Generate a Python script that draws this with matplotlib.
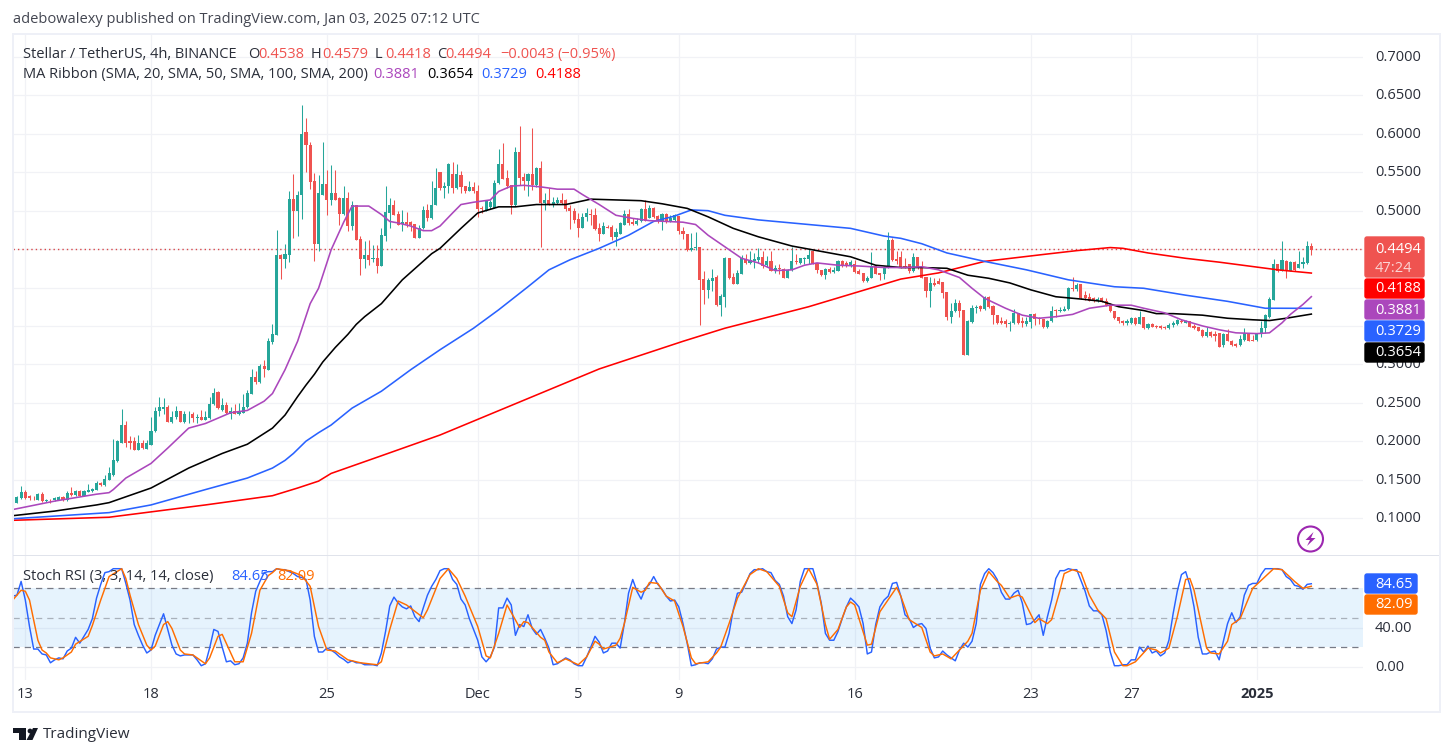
import matplotlib
matplotlib.use("Agg")
import matplotlib.pyplot as plt
from matplotlib.patches import Rectangle, Circle, Polygon, FancyBboxPatch

opens = [
 .117,.120,.126,.134,.128,.126,.124,.131,.122,.124,
 .124,.124,.127,.123,.132,.130,.135,.129,.134,.135,
 .137,.145,.143,.150,.156,.174,.198,.221,.200,.200,
 .189,.197,.190,.195,.213,.239,.242,.245,.225,.231,
 .239,.225,.235,.236,.230,.232,.228,.230,.248,.264,
 .241,.247,.236,.239,.235,.237,.244,.262,.284,.277,
 .298,.293,.329,.338,.442,.437,.442,.515,.499,.520,
 .602,.586,.538,.456,.521,.535,.514,.523,.517,.496,
 .517,.480,.507,.463,.437,.442,.437,.438,.428,.467,
 .497,.508,.496,.483,.485,.485,.483,.465,.477,.501,
 .490,.507,.550,.529,.532,.548,.529,.546,.532,.526,
 .531,.526,.503,.499,.505,.504,.536,.561,.542,.534,
 .508,.577,.544,.539,.548,.533,.555,.510,.514,.507,
 .510,.514,.514,.504,.499,.489,.478,.492,.496,.494,
 .478,.470,.479,.479,.466,.470,.482,.496,.485,.483,
 .486,.502,.491,.504,.493,.486,.496,.486,.488,.493,
 .473,.470,.449,.452,.453,.411,.397,.409,.414,.377,
 .388,.438,.414,.405,.418,.437,.432,.434,.436,.440,
 .429,.435,.421,.425,.424,.413,.423,.435,.432,.437,
 .437,.447,.432,.423,.416,.424,.420,.422,.434,.432,
 .429,.431,.422,.419,.408,.413,.428,.419,.417,.426,
 .462,.437,.440,.428,.430,.421,.440,.426,.414,.395,
 .406,.408,.407,.394,.361,.369,.380,.371,.312,.355,
 .373,.376,.372,.387,.376,.364,.357,.357,.353,.354,
 .367,.356,.352,.355,.366,.360,.359,.348,.356,.371,
 .369,.370,.372,.400,.398,.404,.390,.387,.386,.383,
 .386,.383,.377,.370,.361,.356,.354,.354,.360,.353,
 .361,.347,.353,.350,.350,.349,.347,.351,.353,.357,
 .354,.357,.350,.348,.345,.337,.342,.340,.341,.325,
 .340,.331,.327,.325,.332,.341,.332,.332,.340,.347,
 .361,.384,.430,.422,.434,.422,.433,.425,.430,.432,
 .4538]
highs = [
 .125,.129,.142,.137,.130,.128,.133,.134,.125,.125,
 .127,.128,.128,.135,.140,.137,.137,.137,.144,.139,
 .148,.147,.156,.166,.203,.201,.242,.226,.207,.206,
 .208,.201,.201,.232,.245,.257,.256,.247,.239,.246,
 .239,.239,.239,.238,.235,.241,.239,.257,.269,.265,
 .256,.251,.245,.249,.250,.262,.266,.294,.291,.301,
 .306,.334,.352,.475,.444,.456,.525,.548,.525,.637,
 .620,.589,.549,.546,.590,.553,.559,.553,.518,.532,
 .524,.513,.507,.467,.461,.462,.455,.455,.477,.532,
 .517,.514,.500,.501,.498,.487,.483,.481,.506,.509,
 .538,.555,.550,.537,.562,.563,.561,.552,.532,.539,
 .537,.534,.506,.512,.514,.540,.580,.588,.553,.534,
 .583,.610,.549,.549,.607,.557,.565,.523,.529,.518,
 .518,.523,.515,.507,.503,.497,.497,.503,.502,.503,
 .484,.485,.481,.481,.477,.485,.501,.502,.490,.490,
 .503,.514,.508,.505,.495,.497,.497,.495,.496,.493,
 .479,.470,.471,.472,.453,.422,.412,.424,.416,.392,
 .440,.438,.419,.423,.442,.444,.447,.445,.452,.447,
 .441,.447,.429,.430,.425,.424,.453,.443,.439,.440,
 .450,.447,.432,.423,.426,.427,.427,.436,.436,.434,
 .436,.436,.424,.419,.415,.446,.429,.419,.428,.472,
 .464,.447,.447,.438,.430,.445,.440,.435,.414,.414,
 .413,.412,.407,.394,.380,.385,.384,.371,.358,.377,
 .377,.377,.389,.389,.377,.364,.361,.359,.356,.372,
 .367,.361,.361,.366,.367,.362,.359,.358,.376,.372,
 .374,.376,.401,.414,.406,.405,.395,.393,.387,.387,
 .388,.386,.380,.370,.362,.358,.359,.361,.361,.370,
 .361,.354,.354,.351,.351,.350,.354,.356,.359,.359,
 .358,.357,.353,.349,.346,.348,.344,.343,.341,.341,
 .346,.332,.328,.338,.347,.341,.338,.341,.356,.366,
 .387,.437,.430,.461,.436,.435,.434,.447,.440,.461,
 .4579]
lows = [
 .116,.119,.125,.125,.124,.123,.123,.121,.121,.120,
 .122,.123,.122,.122,.129,.129,.129,.128,.134,.134,
 .136,.141,.142,.149,.155,.173,.197,.192,.190,.189,
 .189,.190,.190,.195,.212,.233,.235,.225,.224,.229,
 .225,.223,.224,.225,.224,.227,.227,.229,.247,.242,
 .239,.236,.229,.235,.234,.237,.243,.261,.275,.276,
 .283,.293,.326,.338,.411,.426,.433,.464,.467,.489,
 .550,.528,.434,.448,.520,.495,.507,.514,.481,.495,
 .474,.475,.462,.416,.425,.429,.433,.419,.428,.461,
 .478,.495,.481,.473,.479,.473,.465,.464,.476,.487,
 .489,.507,.527,.516,.523,.523,.528,.523,.523,.525,
 .523,.492,.497,.499,.502,.503,.535,.541,.529,.496,
 .506,.533,.527,.519,.527,.531,.453,.501,.507,.505,
 .509,.509,.499,.476,.484,.466,.477,.487,.482,.475,
 .460,.469,.477,.462,.454,.469,.481,.482,.481,.481,
 .485,.486,.490,.491,.484,.475,.484,.485,.486,.469,
 .463,.448,.448,.449,.351,.379,.386,.395,.376,.363,
 .375,.411,.405,.405,.417,.431,.431,.426,.432,.425,
 .427,.421,.419,.417,.412,.412,.422,.431,.431,.430,
 .430,.430,.419,.415,.411,.419,.419,.421,.427,.427,
 .427,.419,.417,.407,.407,.412,.417,.410,.411,.425,
 .434,.430,.425,.425,.419,.420,.424,.412,.387,.375,
 .402,.404,.386,.358,.354,.368,.362,.312,.312,.354,
 .367,.370,.371,.373,.353,.353,.352,.348,.344,.353,
 .353,.349,.350,.347,.351,.353,.347,.347,.355,.361,
 .368,.369,.371,.395,.396,.385,.384,.382,.381,.381,
 .381,.376,.368,.359,.354,.351,.351,.353,.351,.352,
 .346,.346,.348,.347,.346,.346,.346,.349,.351,.354,
 .354,.348,.346,.343,.336,.336,.336,.330,.322,.322,
 .330,.324,.323,.324,.331,.330,.330,.331,.336,.341,
 .360,.384,.420,.421,.413,.421,.422,.425,.425,.431,
 .4418]
closes = [
 .123,.127,.134,.126,.126,.1255,.131,.122,.124,.123,
 .126,.127,.123,.132,.130,.135,.129,.135,.136,.138,
 .145,.143,.151,.158,.176,.200,.221,.198,.198,.189,
 .197,.191,.197,.213,.239,.244,.245,.225,.232,.239,
 .225,.236,.236,.230,.232,.228,.231,.248,.263,.243,
 .247,.237,.239,.235,.238,.245,.263,.284,.277,.298,
 .294,.330,.339,.442,.437,.443,.515,.499,.521,.600,
 .585,.537,.456,.523,.535,.514,.523,.514,.496,.517,
 .480,.507,.462,.437,.442,.436,.439,.428,.468,.498,
 .508,.495,.482,.485,.483,.482,.465,.478,.501,.490,
 .508,.529,.529,.532,.561,.529,.548,.531,.526,.531,
 .525,.502,.502,.512,.511,.536,.561,.541,.532,.508,
 .577,.543,.539,.548,.533,.556,.510,.514,.507,.511,
 .514,.510,.502,.499,.488,.478,.492,.497,.494,.476,
 .470,.480,.478,.466,.472,.484,.496,.484,.483,.487,
 .502,.487,.503,.492,.486,.496,.486,.491,.494,.473,
 .469,.449,.451,.453,.410,.397,.410,.413,.377,.389,
 .438,.412,.405,.419,.438,.432,.436,.437,.440,.428,
 .435,.422,.425,.424,.413,.423,.435,.433,.438,.438,
 .442,.430,.423,.416,.424,.420,.423,.434,.429,.428,
 .433,.420,.418,.408,.413,.428,.418,.416,.427,.462,
 .436,.435,.427,.426,.421,.440,.425,.413,.395,.406,
 .403,.404,.393,.361,.370,.380,.370,.312,.357,.373,
 .375,.372,.387,.374,.364,.354,.354,.353,.354,.367,
 .354,.354,.356,.366,.359,.359,.348,.357,.370,.370,
 .371,.372,.400,.398,.403,.386,.386,.383,.383,.385,
 .382,.377,.369,.360,.356,.354,.356,.360,.352,.362,
 .347,.353,.349,.348,.347,.347,.351,.354,.358,.355,
 .356,.349,.347,.344,.337,.342,.337,.337,.322,.340,
 .331,.325,.324,.333,.341,.331,.331,.340,.347,.364,
 .385,.430,.422,.436,.422,.433,.423,.431,.433,.454,
 .4494]

sma20_idx = [0,10,20,23,24,27,33,37,42,46,52,56,60,62,65,68,71,73,76,79,81,83,85,88,90,92,95,98,100,102,
             105,107,110,114,116,119,122,126,130,134,136,140,144,148,152,156,160,163,166,170,174,178,182,186,189,192,197,202,208,213,
             217,221,226,229,232,237,241,245,249,253,257,262,267,270,275,279,284,288,292,297,300,303,305,308,310]
sma20 = [.111,.122,.131,.133,.137,.152,.171,.191,.217,.223,.237,.240,.252,.262,.293,.330,.379,.399,.449,.485,.506,.506,.506,.495,.486,.484,.480,.474,.474,.480,
         .497,.508,.511,.514,.525,.532,.533,.531,.528,.528,.521,.508,.494,.490,.487,.486,.485,.482,.468,.453,.438,.432,.422,.423,.429,.432,.429,.428,.426,.426,
         .427,.423,.413,.399,.386,.373,.364,.360,.362,.365,.373,.377,.377,.373,.367,.358,.350,.345,.341,.340,.341,.354,.365,.378,.3881]
sma50_idx = [0,10,20,23,33,42,50,56,62,65,68,70,72,74,77,80,82,84,88,93,100,102,107,111,116,120,125,132,138,144,150,155,161,166,172,178,186,193,200,206,212,217,223,228,233,238,243,249,255,260,264,270,273,277,284,290,296,300,304,310]
sma50 = [.103,.109,.117,.120,.139,.165,.184,.196,.217,.234,.258,.273,.287,.303,.322,.339,.352,.362,.379,.410,.444,.451,.477,.497,.505,.505,.508,.508,.515,.514,.513,.509,.503,.492,.477,.466,.454,.447,.440,.429,.426,.426,.425,.416,.412,.406,.397,.388,.385,.382,.375,.370,.366,.366,.364,.360,.358,.357,.360,.3654]
sma100_idx = [0,23,33,46,56,62,65,67,70,73,76,81,88,95,102,110,116,123,128,133,140,147,153,158,162,166,170,178,186,192,200,208,212,217,223,232,242,252,263,270,280,290,299,302,310]
sma100 = [.099,.107,.117,.137,.152,.165,.175,.184,.200,.211,.221,.243,.265,.293,.319,.347,.371,.401,.423,.436,.451,.468,.486,.493,.501,.500,.494,.488,.484,.481,.477,.467,.464,.457,.445,.434,.423,.410,.401,.399,.390,.382,.373,.373,.3729]
sma200_idx = [0,23,46,62,68,73,76,88,102,121,140,160,170,190,212,221,232,246,254,262,265,271,280,288,302,310]
sma200 = [.097,.101,.117,.129,.139,.148,.158,.181,.208,.251,.294,.330,.347,.375,.411,.419,.434,.443,.448,.452,.451,.445,.438,.433,.423,.4188]

stoch_k = [
 72,73,87,68,41,18,18,13,12,4, 7,9,8,16,19,30,24,31,38,49,
 70,84,96,97,100,100,100,85,68,43, 32,22,14,17,32,43,54,38,22,13,
 11,12,12,12,7,1,3,19,38,36, 20,5,6,2,3,9,24,55,77,87,
 96,97,97,100,99,99,97,95,92,91, 89,68,31,15,15,19,17,14,10,7.5,
 4,6,4,4,2,2,2,1,14,36, 62,71,65,61,59,62,51,46,60,73,
 82,89,98,100,100,89,84,69,63,49, 38,27,10,5,10,20,60,60,70,63,
 32,43,41,53,39,33,38,29,19,2, 3,6,9,7,3,1,1,10,20,31,
 25,14,16,24,24,19,44,75,89,77, 69,80,84,92,84,79,72,67,68,61,
 44,24,1,2,4,4,3,8,18,20, 20,34,58,75,76,85,95,99,99,100,
 97,96,88,84,72,51,44,58,87,100, 100,100,85,65,34,27,27,36,49,61,
 70,66,61,44,13,15,43,61,68,72, 85,86,72,53,49,40,43,44,39,19,
 9,10,16,12,9,6,17,24,20,26, 44,84,95,100,96,89,76,69,69,75,
 78,65,43,44,48,53,32,51,68,90, 98,98,100,99,99,88,77,62,57,57,
 53,37,15,1,1,2,2,7,7,20, 15,21,14,16,11,14,27,54,77,94,
 97,83,61,30,13,13,15,16,7,26, 44,55,45,51,73,83,85,85,94,100,
 100,100,100,99,92,89,83,82,79,84, 84.65]
stoch_d_idx = [0,2,3,4,6,7,8,9,11,12,14,15,18,19,21,23,26,27,28,30,32,33,34,36,37,38,40,41,43,46,47,49,50,53,55,57,59,61,62,63,66,69,71,73,75,77,80,83,87,88,90,92,94,98,99,102,104,106,108,111,113,114,116,
               118,121,122,123,126,127,128,130,132,135,137,139,140,141,144,145,146,148,150,151,152,154,156,158,160,162,163,166,168,169,171,173,176,178,180,183,185,186,188,190,192,194,195,197,199,200,201,204,205,207,211,212,214,217,219,220,222,224,228,229,231,233,235,
               236,238,240,241,244,245,247,248,250,251,253,255,257,259,261,263,265,266,268,271,273,274,276,278,280,281,282,285,286,288,290,291,293,296,298,301,303,306,308,310]
stoch_d = [68,78,77,68,27,17,14,9,7,9,15,23,31,42,68,92,100,90,73,43,22,17,21,43,46,39,17,13,12,3,9,31,33,5,5,34,78,93,96,100,98,93,82,41,17,16,7,4,2,5,38,67,63,50,58,90,100,90,72,41,11,9,34,
           63,40,46,45,30,27,15,4,8,2,10,26,23,18,22,29,44,81,76,78,86,85,72,67,41,9,3,5,14,20,44,70,94,100,97,82,55,51,82,100,84,43,28,38,61,66,63,22,23,56,81,72,48,40,15,11,13,8,26,34,78,97,87,
           83,70,73,71,45,49,44,48,78,95,99,96,73,58,49,15,1,1,5,19,17,14,19,51,89,90,78,19,14,13,26,43,49,80,88,100,99,87,80,82.09]

price_grid = [0.70,0.65,0.60,0.55,0.50,0.45,0.40,0.35,0.30,0.25,0.20,0.15,0.10]
price_labels = [0.70,0.65,0.60,0.55,0.50,0.30,0.25,0.20,0.15,0.10]
date_idx = [3,33,75,111,135,159,201,243,267,297]
date_labels = ["13","18","25","Dec","5","9","16","23","27","2025"]
stoch_ticks = [0,40]

W, H = 1453, 756
FONT = "Open Sans"
TXT = "#2a2e39"
GREEN, RED = "#26a69a", "#ef5350"
PURPLE, BLUE, ORANGE = "#ab47bc", "#2962ff", "#ff6d00"
GRID = "#f1f2f6"
plt.rcParams["font.family"] = [FONT, "DejaVu Sans"]

fig = plt.figure(figsize=(W/100, H/100), dpi=100, facecolor="white")
def axes_px(x0, y0, x1, y1, **kw):
    return fig.add_axes([x0/W, 1-y1/H, (x1-x0)/W, (y1-y0)/H], **kw)

X0, STEP = 12.75, 4.189
L, R = 13, 1363
xlim = ((L-X0)/STEP, (R-X0)/STEP)

ax = axes_px(L, 35, R, 555)
ax.set_xlim(*xlim)
ax.set_ylim(0.1+(518-555)/768.3, 0.1+(518-35)/768.3)
ax.set_yticks(price_grid)
ax.set_xticks(date_idx)
ax.grid(True, color=GRID, lw=0.9)
ax.set_axisbelow(True)
ax.tick_params(left=False, bottom=False, labelleft=False, labelbottom=False)
for s in ax.spines.values():
    s.set_visible(False)

idx = list(range(len(opens)))
cols = [GREEN if c >= o else RED for o, c in zip(opens, closes)]
ax.vlines(idx, lows, highs, colors=cols, lw=0.75, zorder=2)
ax.bar(idx, [abs(c-o) if abs(c-o) > 0.001 else 0.001 for o, c in zip(opens, closes)],
       bottom=[min(o, c) for o, c in zip(opens, closes)], width=0.74, color=cols, lw=0, zorder=3)
ax.axhline(closes[-1]+0.0008, color="#d8484a", lw=1.0, ls=(0, (1, 2.2)), zorder=2)
ax.plot(sma200_idx, sma200, color="#ff0000", lw=1.15, zorder=4)
ax.plot(sma100_idx, sma100, color=BLUE, lw=1.15, zorder=4)
ax.plot(sma50_idx, sma50, color="#000000", lw=1.15, zorder=4)
ax.plot(sma20_idx, sma20, color=PURPLE, lw=1.15, zorder=4)

sub = axes_px(L, 556, R, 680)
sub.set_xlim(*xlim)
sub.set_ylim((666.7-680)/0.98, (666.7-556)/0.98)
sub.set_yticks(stoch_ticks)
sub.set_xticks(date_idx)
sub.grid(True, color=GRID, lw=0.9)
sub.set_axisbelow(True)
sub.tick_params(left=False, bottom=False, labelleft=False, labelbottom=False)
for s in sub.spines.values():
    s.set_visible(False)
sub.axhspan(20, 80, color="#2196f3", alpha=0.11, lw=0, zorder=1)
sub.axhline(80, color="#787b86", lw=0.9, ls=(0, (5, 4)), zorder=2)
sub.axhline(20, color="#787b86", lw=0.9, ls=(0, (5, 4)), zorder=2)
sub.axhline(50, color="#787b86", lw=0.9, alpha=0.55, ls=(0, (5, 4)), zorder=2)
sub.plot(range(len(stoch_k)), stoch_k, color=BLUE, lw=1.05, zorder=3)
sub.plot(stoch_d_idx, stoch_d, color=ORANGE, lw=1.05, zorder=4)

ov = axes_px(0, 0, W, H)
ov.set_xlim(0, W)
ov.set_ylim(H, 0)
ov.axis("off")
ov.patch.set_alpha(0)
ov.set_zorder(10)

def T(x, y, s, color=TXT, size=10.55, ha="left", weight="normal", z=8):
    ov.text(x, y+0.5, s, color=color, fontsize=size, ha=ha, va="center", weight=weight, zorder=z)

FR = "#eef0f7"
for (a, b, c, d) in [(12, 33, 1429, 2), (12, 33, 2, 680), (1439, 33, 2, 680), (12, 711, 1429, 2)]:
    ov.add_patch(Rectangle((a, b), c, d, color=FR, lw=0))
ov.add_patch(Rectangle((13, 555), 1426, 1.4, color="#e0e3eb", lw=0))

T(13, 19, "adebowalexy published on TradingView.com, Jan 03, 2025 07:12 UTC", color="#434651")
T(23, 54, "Stellar / TetherUS, 4h, BINANCE")
for x, s, c in [(248, "O", TXT), (258, "0.4538", RED), (311, "H", TXT), (322, "0.4579", RED), (375, "L", TXT),
                (385, "0.4418", RED), (437, "C", TXT), (445, "0.4494", RED), (500, "−0.0043", RED), (557, "(−0.95%)", RED)]:
    T(x, 54, s, color=c)
T(23, 74, "MA Ribbon (SMA, 20, SMA, 50, SMA, 100, SMA, 200)")
for x, s, c in [(373, "0.3881", PURPLE), (427, "0.3654", "#000000"), (481, "0.3729", BLUE), (535, "0.4188", "#ff0000")]:
    T(x, 74, s, color=c)
T(23, 576, "Stoch RSI (3, 3, 14, 14, close)")
T(231, 576, "84.65", color=BLUE)
T(277, 576, "82.09", color=ORANGE)

for p in price_labels:
    T(1375, 518-(p-0.1)*768.3, f"{p:.4f}", z=2)
for v in stoch_ticks:
    T(1375, 666.7-0.98*v, f"{v:.2f}", z=2)
for i, s in zip(date_idx, date_labels):
    T(X0+STEP*i, 694, s, ha="center", weight="bold" if s == "2025" else "normal")

def box(y0, y1, s, color, x1=1425):
    ov.add_patch(FancyBboxPatch((1365, y0+1), x1-1365-1, y1-y0-2, boxstyle="round,pad=0,rounding_size=2",
                                fc=color, ec=color, lw=1, zorder=5))
    if s:
        T(1375, (y0+y1)/2, s, color="white", z=6)

box(236, 278, "", RED)
T(1375, 249, "0.4494", color="white", z=6)
T(1375, 268, "47:24", color="#fbd5d4", z=6)
box(278, 299, "0.4188", "#ff0000")
box(299, 320, "0.3881", PURPLE)
box(320, 342, "0.3729", BLUE)
box(342, 363, "0.3654", "#000000")
box(573, 594, "84.65", BLUE, x1=1418)
box(594, 615, "82.09", ORANGE, x1=1418)

ov.add_patch(Circle((1310.5, 539), 12.5, fc="white", ec="#9c27b0", lw=1.5, zorder=6))
ov.add_patch(Polygon([(1313.5, 532), (1305.5, 540), (1310, 540), (1307, 546), (1315.5, 538), (1311, 538)],
                     closed=True, fc="#9c27b0", ec="none", zorder=7))

LOGO = "#131722"
ov.add_patch(Polygon([(13, 728), (26, 728), (26, 740), (19, 740), (19, 733), (13, 733)], closed=True, fc=LOGO, ec="none"))
ov.add_patch(Circle((30, 731), 2.4, fc=LOGO, ec="none"))
ov.add_patch(Polygon([(33, 728), (38, 728), (32.5, 740), (26.5, 740)], closed=True, fc=LOGO, ec="none"))
T(43, 734, "TradingView", color="#2a2e39", size=11)

fig.savefig("out.png", dpi=100, facecolor="white")
